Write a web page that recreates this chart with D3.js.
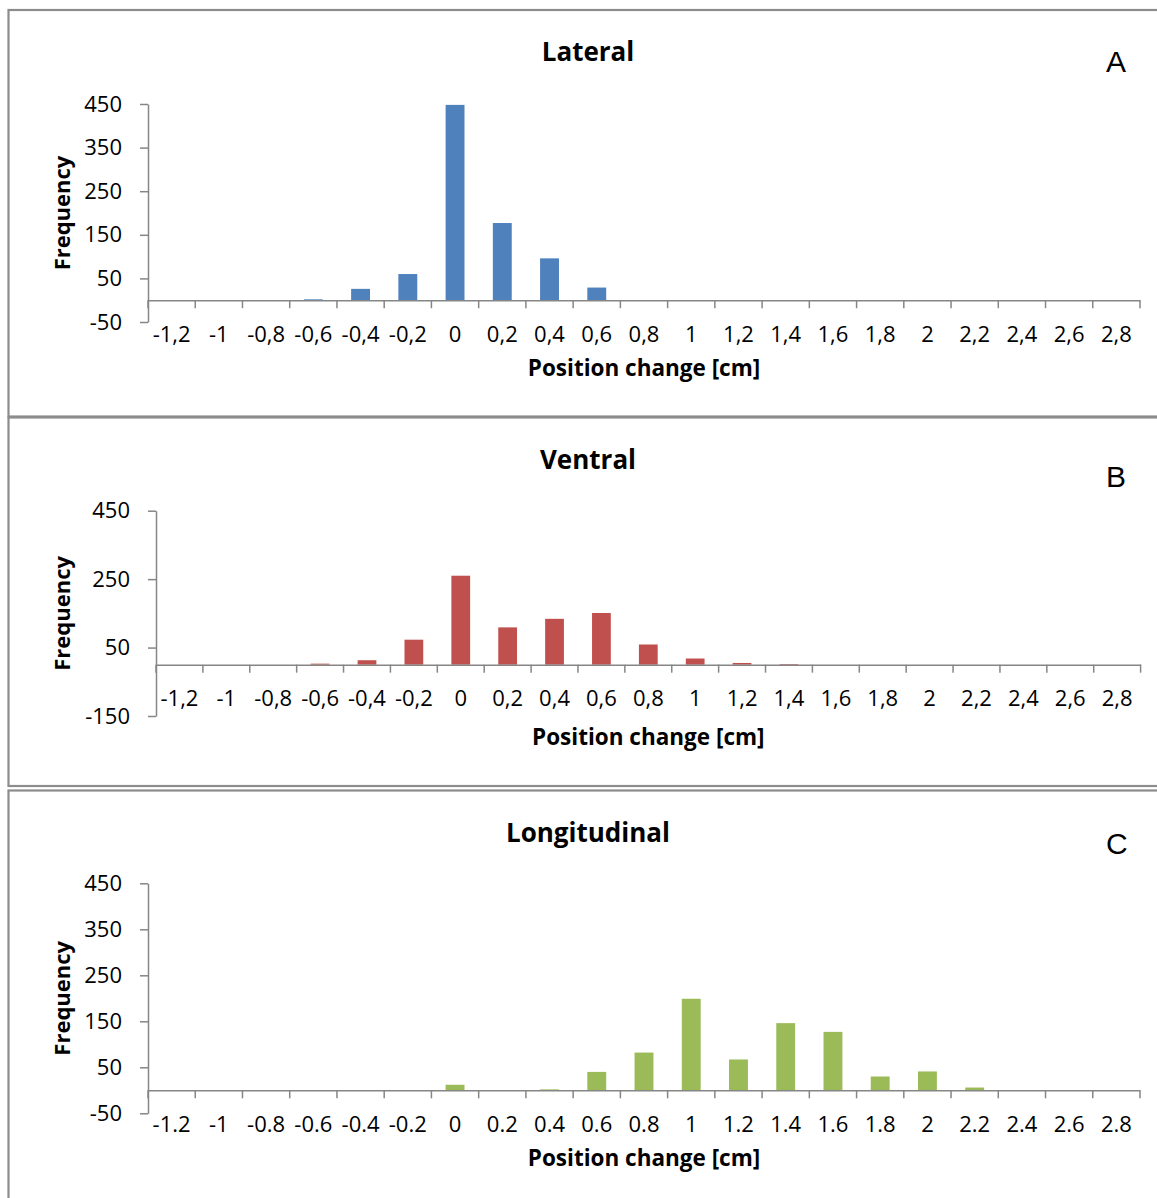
<!DOCTYPE html>
<html>
<head>
<meta charset="utf-8">
<script src="https://cdn.jsdelivr.net/npm/d3@7"></script>
<style>
  body { margin: 0; background: #fff; }
  svg { display: block; }
  text { font-family: "Open Sans", sans-serif; fill: #000; }
</style>
</head>
<body>
<svg id="chart"></svg>
<script>
// Histograms of position change, three directions

const categories = ["-1.2", "-1", "-0.8", "-0.6", "-0.4", "-0.2", "0", "0.2", "0.4", "0.6", "0.8",
  "1", "1.2", "1.4", "1.6", "1.8", "2", "2.2", "2.4", "2.6", "2.8"];

// tick labels as printed (comma decimals in A and B, dots in C)
const labelsComma = ["-1,2", "-1", "-0,8", "-0,6", "-0,4", "-0,2", "0", "0,2", "0,4", "0,6", "0,8",
  "1", "1,2", "1,4", "1,6", "1,8", "2", "2,2", "2,4", "2,6", "2,8"];
const labelsDot = categories;

const lateral      = [0, 0, 0, 2, 26, 60, 448, 177, 96, 29, 0, 0, 0, 0, 0, 0, 0, 0, 0, 0, 0];
const ventral      = [0, 0, 0, 3, 13, 73, 260, 109, 134, 151, 59, 18, 5, 2, 0, 0, 0, 0, 0, 0, 0];
const longitudinal = [0, 0, 0, 0, 0, 0, 12, 0, 2, 40, 82, 199, 67, 146, 127, 30, 41, 6, 0, 0, 0];

const yTicksAC = [-50, 50, 150, 250, 350, 450];
const yTicksB  = [-150, 50, 250, 450];

const W = 1157, H = 1198;
const svg = d3.select("#chart").attr("width", W).attr("height", H);

const axisGrey = "#868686";
const tickFont = "22px";

// one entry per panel: layout only, values come from the arrays above
const panels = [
  {title: "Lateral", letter: "A", values: lateral, labels: labelsComma, yTicks: yTicksAC,
   color: "#4F81BD", box: [10, 416.5], x: [148, 1140], y: [322, 104], titleY: 61, letterY: 72, xTitleGap: 76},
  {title: "Ventral", letter: "B", values: ventral, labels: labelsComma, yTicks: yTicksB,
   color: "#C0504D", box: [417.5, 786], x: [156, 1140.6], y: [716, 510.7], titleY: 469, letterY: 487, xTitleGap: 80},
  {title: "Longitudinal", letter: "C", values: longitudinal, labels: labelsDot, yTicks: yTicksAC,
   color: "#9BBB59", box: [790.5, 1220], x: [148, 1140], y: [1113.3, 883.3], titleY: 842, letterY: 854, xTitleGap: 76}
];

panels.forEach(p => {
  const g = svg.append("g");

  // chart border (runs off the right edge of the picture)
  g.append("rect")
    .attr("x", 8.5).attr("y", p.box[0])
    .attr("width", W + 20).attr("height", p.box[1] - p.box[0])
    .attr("fill", "none")
    .attr("stroke", "#8c8c8c")
    .attr("stroke-width", 2.2);

  const yDomain = [p.yTicks[0], p.yTicks[p.yTicks.length - 1]];
  const y = d3.scaleLinear().domain(yDomain).range(p.y);

  // category slots for ticks/labels, and a padded band for the bars (gap width 150%)
  const xCat = d3.scaleBand().domain(categories).range(p.x).padding(0);
  const xBar = d3.scaleBand().domain(categories).range(p.x).paddingInner(0.6).paddingOuter(0.3);

  // bars
  g.append("g")
    .selectAll("rect")
    .data(categories.map((c, i) => ({c, v: p.values[i]})))
    .join("rect")
      .attr("x", d => xBar(d.c))
      .attr("width", xBar.bandwidth())
      .attr("y", d => y(Math.max(0, d.v)))
      .attr("height", d => Math.abs(y(d.v) - y(0)))
      .attr("fill", p.color);

  // y axis (plain hyphen for negatives, like the original)
  const yAxis = g.append("g")
    .attr("transform", `translate(${p.x[0]},0)`)
    .call(d3.axisLeft(y).tickValues(p.yTicks).tickSize(8).tickSizeOuter(0).tickPadding(18)
      .tickFormat(d => String(d)));
  yAxis.select(".domain").attr("stroke", axisGrey).attr("stroke-width", 1.5);
  yAxis.selectAll(".tick line").attr("stroke", axisGrey).attr("stroke-width", 1.5);
  yAxis.selectAll(".tick text")
    .style("font-family", '"Open Sans", sans-serif')
    .style("font-size", tickFont)
    .attr("fill", "#000");

  // category axis sits on the zero line
  const y0 = y(0);
  const xAxis = g.append("g")
    .attr("transform", `translate(0,${y0})`)
    .call(d3.axisBottom(xCat).tickSize(0).tickPadding(26).tickFormat((d, i) => p.labels[i]));
  xAxis.select(".domain").attr("stroke", axisGrey).attr("stroke-width", 1.5);
  xAxis.selectAll(".tick text")
    .style("font-family", '"Open Sans", sans-serif')
    .style("font-size", tickFont)
    .attr("fill", "#000");

  // tick marks between categories
  const bounds = categories.map(c => xCat(c)).concat([xCat.range()[1]]);
  xAxis.append("g")
    .selectAll("line")
    .data(bounds)
    .join("line")
      .attr("x1", d => d).attr("x2", d => d)
      .attr("y1", 0).attr("y2", 8)
      .attr("stroke", axisGrey)
      .attr("stroke-width", 1.5);

  // titles
  g.append("text")
    .attr("x", 588).attr("y", p.titleY)
    .attr("text-anchor", "middle")
    .style("font-size", "26px").style("font-weight", "700")
    .text(p.title);

  g.append("text")
    .attr("x", 1106).attr("y", p.letterY)
    .style("font-family", '"Liberation Sans", Arial, sans-serif')
    .style("font-size", "30px")
    .text(p.letter);

  g.append("text")
    .attr("x", (p.x[0] + p.x[1]) / 2).attr("y", y0 + p.xTitleGap)
    .attr("text-anchor", "middle")
    .style("font-size", "22.5px").style("font-weight", "700")
    .text("Position change [cm]");

  g.append("text")
    .attr("transform", `translate(70,${(p.y[0] + p.y[1]) / 2}) rotate(-90)`)
    .attr("text-anchor", "middle")
    .style("font-size", "22px").style("font-weight", "700")
    .text("Frequency");
});
</script>
</body>
</html>
